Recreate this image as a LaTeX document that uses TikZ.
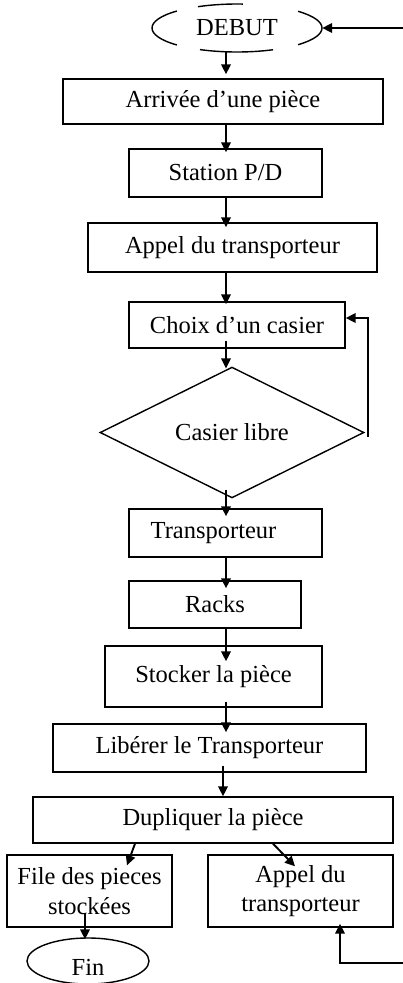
\documentclass[tikz,border=0pt]{standalone}
\usepackage{fontspec}
\setmainfont{Liberation Serif}
\usetikzlibrary{arrows.meta,shapes.geometric,calc}

\begin{document}
\begin{tikzpicture}[x=1pt,y=-1pt,
  txt/.style={font=\fontsize{24.5}{29.5}\selectfont, align=center},
  box/.style={txt, draw, rectangle, line width=1.4pt, inner sep=0pt},
  arr/.style={line width=1.9pt, -{Triangle[length=10pt,width=9.5pt]}},
  outline/.style={line width=1.4pt}]

% page area
\fill[white] (0,0) rectangle (403,983);
\useasboundingbox (0,0) rectangle (403,983);

% start terminal: open ellipse
\node[txt, ellipse, minimum width=170pt, minimum height=48pt, inner sep=0pt] (deb) at (237,28) {DEBUT};
\draw[outline] ($(deb.center)+(135:85 and 24)$) arc[start angle=135, end angle=225, x radius=85, y radius=24];
\draw[outline] ($(deb.center)+(-44:85 and 24)$) arc[start angle=-44, end angle=44, x radius=85, y radius=24];
\draw[outline] ($(deb.center)+(242.7:85 and 24)$) arc[start angle=242.7, end angle=274, x radius=85, y radius=24];
\draw[outline] ($(deb.center)+(64.9:85 and 24)$) arc[start angle=64.9, end angle=115.8, x radius=85, y radius=24];

% process steps
\node[box, minimum width=320pt, minimum height=45pt] (arv) at (223,101.5) {Arrivée d’une pièce};
\node[box, minimum width=193pt, minimum height=48pt] (sta) at (225.5,173) {Station P/D};
\node[box, minimum width=289pt, minimum height=49pt] (app) at (232.5,247.5) {Appel du transporteur};
\node[box, minimum width=216pt, minimum height=46pt] (cho) at (237,325) {Choix d’un casier};
\node[txt, draw, diamond, line width=1.4pt, inner sep=0pt, minimum width=264pt, minimum height=120pt] (cas) at (232,432.5) {Casier libre};
\node[box, minimum width=193pt, minimum height=48pt] (tra) at (225.5,533) {Transporteur\hspace*{24pt}};
\node[box, minimum width=172pt, minimum height=47pt] (rac) at (215,604.5) {Racks};
\node[box, minimum width=217pt, minimum height=61pt] (sto) at (213.5,676.5) {Stocker la pièce};
\node[box, minimum width=313pt, minimum height=48pt] (lib) at (209.5,748) {Libérer le Transporteur};
\node[box, minimum width=360pt, minimum height=46pt] (dup) at (213,820) {Dupliquer la pièce};
\node[box, minimum width=165pt, minimum height=72pt] (fil) at (89.5,891) {File des pieces\\stockées};
\node[box, minimum width=185pt, minimum height=72pt] (ap2) at (300.5,891) {Appel du\\transporteur};
\node[txt, draw, ellipse, line width=1.4pt, inner sep=0pt, text height=28pt, text depth=0pt, minimum width=122pt, minimum height=46pt] (fin) at (88,961) {Fin};

% guide lines for the vertical flow
\coordinate (sp) at (226,0);
\coordinate (sq) at (223,0);
\coordinate (lt) at (403,28);
\coordinate (lb) at (403,963);

% connectors
\draw[arr] (deb.south -| sp) -- ($(arv.north -| sp)+(0,-4)$);
\draw[arr] ($(arv.south -| sp)+(0,-2)$) -- ($(sta.north -| sp)+(0,4)$);
\draw[arr] (sta.south -| sp) -- ($(app.north -| sp)+(0,5)$);
\draw[arr] (app.south -| sp) -- ($(cho.north -| sp)+(0,3)$);
\draw[arr] ($(cho.south -| sp)+(0,-8)$) -- ($(cas.north -| sp)+(0,2)$);
\draw[arr] ($(cas.south -| sp)+(0,-9)$) -- ($(tra.north -| sp)+(0,8)$);
\draw[arr] (tra.south -| sp) -- ($(rac.north -| sp)+(0,8)$);
\draw[arr] (rac.south -| sp) -- ($(sto.north -| sp)+(0,16)$);
\draw[arr] ($(sto.south -| sp)+(0,-6)$) -- ($(lib.north -| sp)+(0,9)$);
\draw[arr] ($(lib.south -| sq)+(0,-7)$) -- (dup.north -| sq);
\draw[arr] ($(dup.south)+(-78,0)$) -- ($(fil.north)+(37.5,11)$);
\draw[arr] ($(dup.south)+(60,0)$) -- ($(ap2.north)+(-5.5,12)$);
\draw[arr] ($(fil.south)+(-4.5,-15)$) -- ($(fin.north)+(-3,2)$);

% feedback loops
\draw[arr] ($(cas.east)+(3,4.5)$) |- ($(cho.east)+(0,-7)$);
\draw[arr] (lt) -- (deb.east);
\draw[arr] (lb) -| ($(ap2.south)+(39.5,-4)$);

\end{tikzpicture}
\end{document}
